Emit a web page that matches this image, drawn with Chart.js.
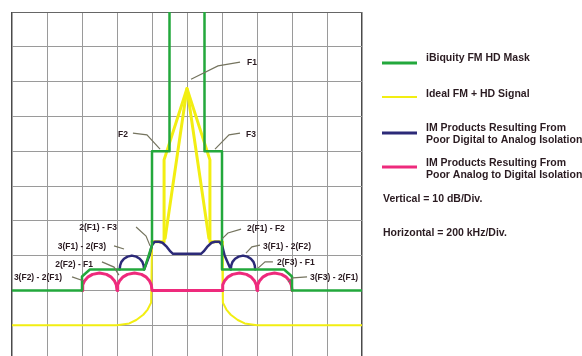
<!DOCTYPE html>
<html>
<head>
<meta charset="utf-8">
<script src="https://cdn.jsdelivr.net/npm/chart.js@4.4.0/dist/chart.umd.min.js"></script>
<style>
  html, body { margin: 0; padding: 0; background: #fff; }
  #wrap { width: 582px; height: 356px; overflow: hidden; }
  canvas { display: block; }
</style>
</head>
<body>
<div id="wrap"><canvas id="spectrum" width="582" height="362"></canvas></div>
<script>
// frequency offset in kHz, level in dB (0 dB = top grid line)
const maskFreq  = [-1000, -600, -600, -555, -245, -200, -200, -100, -100, 100, 100, 200, 200, 555, 600, 600, 1000];
const maskLevel = [  -80,  -80,  -76,  -74,  -74,  -67,  -40,  -40,    5,   5, -40, -40, -74, -74, -76, -80,  -80];

// ideal FM + HD : outer outline, then (after the gap) the narrow analog spike
const signalFreq  = [-1000, -400, -330, -290, -250, -225, -205, -200, -131, -131,   0,  131,  131, 200,  205,  225,  250,  290,  330,  400, 1000, 0,    -125,   0,  125];
const signalLevel = [  -90,  -90, -89.5, -88.5, -87, -85.5, -83.5, -66, -66, -42.5, -22, -42.5, -66, -66, -83.5, -85.5, -87, -88.5, -89.5, -90, -90, null, -65, -22, -65];

// IM products, poor digital to analog isolation
const imDigFreq  = [-385, -382, -375, -360, -340, -315, -290, -270, -255, -248, -245, -215, -200, -185, -160, -140, -115,  -95,  -80,   80,   95,  115,  140,  160,  185, 200, 215, 250, 253, 260, 275, 295, 320, 345, 365, 380, 387, 390];
const imDigLevel = [ -74, -72.8, -71.8, -70.9, -70.3, -70, -70.3, -70.9, -71.8, -72.8, -74, -70, -67, -66, -66, -66.3, -67.5, -68.8, -69.5, -69.5, -68.8, -67.5, -66.3, -66, -66, -67, -70, -74, -72.8, -71.8, -70.9, -70.3, -70, -70.3, -70.9, -71.8, -72.8, -74];

// IM products, poor analog to digital isolation
const imAnaFreq  = [-600, -596, -585, -565, -540, -500, -460, -435, -415, -404, -400, -396, -385, -365, -340, -300, -260, -235, -215, -204, -200, 200, 204, 215, 235, 260, 300, 340, 365, 385, 396, 400, 404, 415, 435, 460, 500, 540, 565, 585, 596, 600];
const imAnaLevel = [ -80, -78.4, -77.2, -76.1, -75.4, -75, -75.4, -76.1, -77.2, -78.4, -80, -78.4, -77.2, -76.1, -75.4, -75, -75.4, -76.1, -77.2, -78.4, -80, -80, -78.4, -77.2, -76.1, -75.4, -75, -75.4, -76.1, -77.2, -78.4, -80, -78.4, -77.2, -76.1, -75.4, -75, -75.4, -76.1, -77.2, -78.4, -80];

const seriesNames = [
  'iBiquity FM HD Mask',
  'Ideal FM + HD Signal',
  'IM Products Resulting From\nPoor Digital to Analog Isolation',
  'IM Products Resulting From\nPoor Analog to Digital Isolation',
];
const seriesColors = ['#23a83c', '#f2ee12', '#2c2a78', '#ee2a7c'];
const footNotes = ['Vertical = 10 dB/Div.', 'Horizontal = 200 kHz/Div.'];

// callouts: text, text anchor [kHz, dB], alignment, leader polyline [[kHz, dB], ...]
const noteText  = ['F1', 'F2', 'F3', '2(F1) - F3', '3(F1) - 2(F3)', '2(F2) - F1', '3(F2) - 2(F1)', '2(F1) - F2', '3(F1) - 2(F2)', '2(F3) - F1', '3(F3) - 2(F1)'];
const noteAt    = [[343, -14.6], [-337, -35.3], [337, -35.3], [-400, -62.1], [-463, -67.4], [-537, -72.7], [-714, -76.4], [343, -62.4], [434, -67.4], [514, -72.1], [703, -76.4]];
const noteAlign = ['left', 'right', 'left', 'right', 'right', 'right', 'right', 'left', 'left', 'left', 'left'];
const noteLeader = [
  [[303, -14.4], [177, -15.5], [23, -19.3]],
  [[-309, -34.8], [-229, -35.3], [-154, -39.4]],
  [[303, -34.8], [240, -35.3], [160, -39.4]],
  [[-291, -61.8], [-234, -64.4], [-211, -67.2]],
  [[-417, -67.2], [-360, -68.1]],
  [[-486, -71.8], [-417, -73.3], [-389, -75.6]],
  [[-657, -76.1], [-589, -77.3]],
  [[309, -62.4], [234, -63.5], [200, -65.2]],
  [[417, -67.0], [371, -67.5], [337, -69.3]],
  [[491, -71.8], [446, -71.8], [406, -73.6]],
  [[686, -76.1], [606, -76.4], [577, -77.6]],
];

const toPoints = (fs, ls) => fs.map((f, i) => ({ x: f, y: ls[i] }));

const overlay = {
  id: 'overlay',
  afterDatasetsDraw(chart) {
    const { ctx, chartArea, scales: { x, y } } = chart;
    ctx.save();

    // callouts
    ctx.font = 'bold 8.5px "Liberation Sans", Arial, sans-serif';
    ctx.textBaseline = 'middle';
    noteText.forEach((t, i) => {
      ctx.strokeStyle = '#75745f';
      ctx.lineWidth = 1.2;
      ctx.beginPath();
      noteLeader[i].forEach(([f, d], j) => {
        const px = x.getPixelForValue(f), py = y.getPixelForValue(d);
        j ? ctx.lineTo(px, py) : ctx.moveTo(px, py);
      });
      ctx.stroke();
      ctx.fillStyle = '#2a1b21';
      ctx.textAlign = noteAlign[i];
      ctx.fillText(t, x.getPixelForValue(noteAt[i][0]), y.getPixelForValue(noteAt[i][1]));
    });

    // legend to the right of the plot
    const lx = chartArea.right + 20;
    const tx = chartArea.right + 64;
    const rowY = [58, 94, 128, 163];
    const lineY = [63, 97, 133, 167];
    ctx.font = 'bold 10.5px "Liberation Sans", Arial, sans-serif';
    ctx.textAlign = 'left';
    chart.data.datasets.forEach((ds, i) => {
      ctx.strokeStyle = ds.borderColor;
      ctx.lineWidth = i === 1 ? 2 : 3;
      ctx.beginPath();
      ctx.moveTo(lx, lineY[i]);
      ctx.lineTo(lx + 35, lineY[i]);
      ctx.stroke();
      ctx.fillStyle = '#2a1b21';
      ds.label.split('\n').forEach((s, k) => ctx.fillText(s, tx, rowY[i] + k * 12));
    });
    ctx.fillText(footNotes[0], lx + 1, 199);
    ctx.fillText(footNotes[1], lx + 1, 233);
    ctx.restore();
  }
};

new Chart(document.getElementById('spectrum'), {
  type: 'line',
  data: {
    datasets: [
      { label: seriesNames[0], data: toPoints(maskFreq, maskLevel), borderColor: seriesColors[0], borderWidth: 2.5, order: 1 },
      { label: seriesNames[1], data: toPoints(signalFreq, signalLevel), borderColor: seriesColors[1], borderWidth: 3, order: 4,
        segment: { borderWidth: c => (c.p0.parsed.y <= -83 || c.p1.parsed.y <= -83) ? 2 : 3 } },
      { label: seriesNames[2], data: toPoints(imDigFreq, imDigLevel), borderColor: seriesColors[2], borderWidth: 2.5, order: 2 },
      { label: seriesNames[3], data: toPoints(imAnaFreq, imAnaLevel), borderColor: seriesColors[3], borderWidth: 3, order: 3 },
    ],
  },
  options: {
    responsive: false,
    animation: false,
    layout: { padding: { left: 12, top: 12, right: 220, bottom: 2 } },
    elements: { point: { radius: 0 }, line: { tension: 0, borderJoinStyle: 'round', borderCapStyle: 'round' } },
    plugins: { legend: { display: false }, tooltip: { enabled: false } },
    scales: {
      x: {
        type: 'linear', min: -1000, max: 1000,
        ticks: { display: false, stepSize: 200 },
        grid: { drawTicks: false, color: c => Math.abs(c.tick.value) === 1000 ? '#4a4a4a' : '#9a9a9a', lineWidth: c => Math.abs(c.tick.value) === 1000 ? 1.5 : 1 },
        border: { display: false },
      },
      y: {
        min: -100, max: 0,
        ticks: { display: false, stepSize: 10 },
        grid: { drawTicks: false, color: c => c.tick.value === 0 ? '#666' : '#9a9a9a' },
        border: { display: false },
      },
    },
  },
  plugins: [overlay],
});
</script>
</body>
</html>
